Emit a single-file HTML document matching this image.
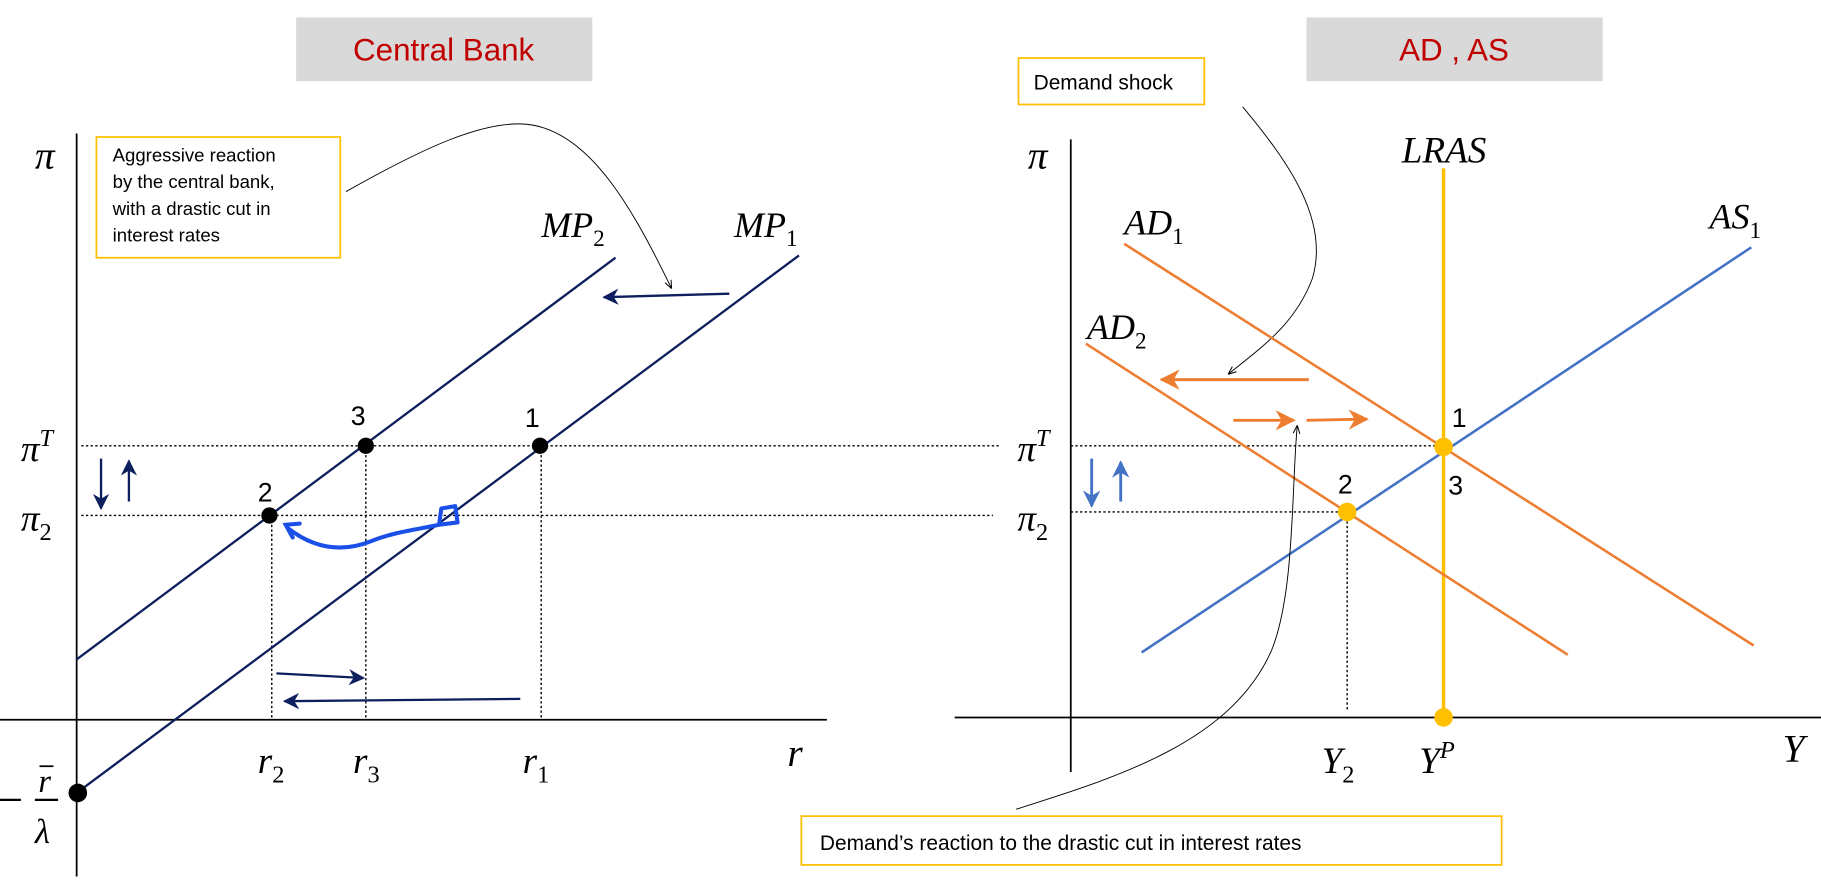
<!DOCTYPE html>
<html><head><meta charset="utf-8"><style>
html,body{margin:0;padding:0;background:#fff;}
svg{display:block;}
.m{font-family:"Liberation Serif",serif;font-style:italic;}
.s{font-family:"Liberation Sans",sans-serif;}
</style></head><body>
<svg width="1821" height="880" viewBox="0 0 1568 758" preserveAspectRatio="none" xmlns="http://www.w3.org/2000/svg">
<defs>
<marker id="an" viewBox="0 0 10 10" refX="9" refY="5" markerWidth="7" markerHeight="7" orient="auto-start-reverse"><path d="M0,0 L10,5 L0,10 L3,5z" fill="#0d1f5c"/></marker>
<marker id="ao" viewBox="0 0 10 10" refX="9" refY="5" markerWidth="7" markerHeight="7" orient="auto"><path d="M0,0 L10,5 L0,10 L3,5z" fill="#ed7d31"/></marker>
<marker id="ab" viewBox="0 0 10 10" refX="9" refY="5" markerWidth="6" markerHeight="6" orient="auto"><path d="M0,0 L10,5 L0,10 L3,5z" fill="#4472c4"/></marker>
<marker id="ak" viewBox="0 0 10 10" refX="9" refY="5" markerWidth="9" markerHeight="9" orient="auto"><path d="M0,1 L10,5 L0,9" fill="none" stroke="#000" stroke-width="1.2"/></marker>
</defs>
<!-- LEFT -->
<rect x="255" y="15" width="255" height="55" fill="#d9d9d9"/>
<text x="382" y="52" text-anchor="middle" class="s" font-size="27" fill="#c00000">Central Bank</text>
<line x1="66" y1="115" x2="66" y2="755" stroke="#000" stroke-width="1.5"/>
<line x1="0" y1="620" x2="712" y2="620" stroke="#000" stroke-width="1.5"/>
<text x="30" y="145" class="m" font-size="34">π</text>
<rect x="83" y="118" width="210" height="104" fill="#fff" stroke="#ffc000" stroke-width="1.5"/>
<g class="s" font-size="16" fill="#000">
<text x="97" y="139">Aggressive reaction</text>
<text x="97" y="162">by the central bank,</text>
<text x="97" y="185">with a drastic cut in</text>
<text x="97" y="208">interest rates</text>
</g>
<path d="M298,165 C360,130 420,100 460,108 C510,118 545,180 578,248" fill="none" stroke="#000" stroke-width="0.8" marker-end="url(#ak)"/>
<g stroke="#000" stroke-width="1.2" stroke-dasharray="2,2">
<line x1="70" y1="384" x2="860" y2="384"/>
<line x1="70" y1="444" x2="855" y2="444"/>
<line x1="234" y1="444" x2="234" y2="618"/>
<line x1="315" y1="384" x2="315" y2="618"/>
<line x1="466" y1="384" x2="466" y2="618"/>
<line x1="922" y1="384" x2="1243" y2="384"/>
<line x1="922" y1="441" x2="1160" y2="441"/>
<line x1="1160" y1="441" x2="1160" y2="612"/>
</g>
<line x1="66" y1="568" x2="530" y2="222" stroke="#0d1f5c" stroke-width="2"/>
<line x1="66" y1="683" x2="688" y2="220" stroke="#0d1f5c" stroke-width="2"/>
<text x="466" y="204" class="m" font-size="31">MP<tspan font-size="20" dy="8" font-style="normal">2</tspan></text>
<text x="632" y="204" class="m" font-size="31">MP<tspan font-size="20" dy="8" font-style="normal">1</tspan></text>
<line x1="628" y1="253" x2="520" y2="256" stroke="#0d1f5c" stroke-width="2" marker-end="url(#an)"/>
<line x1="238" y1="580" x2="313" y2="584" stroke="#0d1f5c" stroke-width="2" marker-end="url(#an)"/>
<line x1="448" y1="602" x2="245" y2="604" stroke="#0d1f5c" stroke-width="2" marker-end="url(#an)"/>
<line x1="87" y1="395" x2="87" y2="438" stroke="#0d1f5c" stroke-width="2" marker-end="url(#an)"/>
<line x1="111" y1="432" x2="111" y2="397" stroke="#0d1f5c" stroke-width="2" marker-end="url(#an)"/>
<path d="M378,452 L380,438 L392,436 L394,450 Z" fill="none" stroke="#1a4fe8" stroke-width="3.5" stroke-linejoin="round"/>
<path d="M378,452 C360,456 340,458 320,466 C300,474 275,476 248,455" fill="none" stroke="#1a4fe8" stroke-width="3.5" stroke-linecap="round"/>
<path d="M258,451 L246,452 L252,463" fill="none" stroke="#1a4fe8" stroke-width="3.5" stroke-linecap="round"/>
<g fill="#000"><circle cx="315" cy="384" r="7"/><circle cx="465" cy="384" r="7"/><circle cx="232" cy="444" r="7"/><circle cx="67" cy="683" r="8"/></g>
<g class="s" font-size="23"><text x="302" y="366">3</text><text x="452" y="368">1</text><text x="222" y="432">2</text></g>
<text x="18" y="397" class="m" font-size="32">π<tspan font-size="21" dy="-13">T</tspan></text>
<text x="18" y="457" class="m" font-size="32">π<tspan font-size="21" dy="8" font-style="normal">2</tspan></text>
<text x="222" y="666" class="m" font-size="32">r<tspan font-size="21" dy="8" font-style="normal">2</tspan></text>
<text x="304" y="666" class="m" font-size="32">r<tspan font-size="21" dy="8" font-style="normal">3</tspan></text>
<text x="450" y="666" class="m" font-size="32">r<tspan font-size="21" dy="8" font-style="normal">1</tspan></text>
<text x="678" y="660" class="m" font-size="34">r</text>
<line x1="0" y1="689" x2="18" y2="689" stroke="#000" stroke-width="2"/>
<line x1="30" y1="689" x2="50" y2="689" stroke="#000" stroke-width="2"/>
<text x="33" y="682" class="m" font-size="28">r</text><line x1="34" y1="660" x2="46" y2="660" stroke="#000" stroke-width="1.5"/>
<text x="30" y="726" class="m" font-size="30">λ</text>
<!-- RIGHT -->
<rect x="1125" y="15" width="255" height="55" fill="#d9d9d9"/>
<text x="1252" y="52" text-anchor="middle" class="s" font-size="27" fill="#c00000">AD , AS</text>
<rect x="877" y="50" width="160" height="40" fill="#fff" stroke="#ffc000" stroke-width="1.5"/>
<text x="890" y="77" class="s" font-size="18">Demand shock</text>
<path d="M1070,92 C1110,140 1145,190 1130,240 C1115,280 1085,300 1058,322" fill="none" stroke="#000" stroke-width="0.8" marker-end="url(#ak)"/>
<line x1="922" y1="120" x2="922" y2="665" stroke="#000" stroke-width="1.5"/>
<line x1="822" y1="618" x2="1568" y2="618" stroke="#000" stroke-width="1.5"/>
<text x="885" y="145" class="m" font-size="34">π</text>
<text x="1207" y="140" class="m" font-size="32">LRAS</text>
<line x1="1243" y1="145" x2="1243" y2="618" stroke="#ffc000" stroke-width="3"/>
<line x1="968" y1="210" x2="1510" y2="556" stroke="#ed7d31" stroke-width="2.2"/>
<line x1="935" y1="296" x2="1350" y2="564" stroke="#ed7d31" stroke-width="2.2"/>
<line x1="983" y1="562" x2="1508" y2="213" stroke="#4472c4" stroke-width="2.2"/>
<text x="968" y="202" class="m" font-size="31">AD<tspan font-size="20" dy="8" font-style="normal">1</tspan></text>
<text x="936" y="292" class="m" font-size="31">AD<tspan font-size="20" dy="8" font-style="normal">2</tspan></text>
<text x="1472" y="197" class="m" font-size="31">AS<tspan font-size="20" dy="8" font-style="normal">1</tspan></text>
<line x1="1127" y1="327" x2="1000" y2="327" stroke="#ed7d31" stroke-width="2.5" marker-end="url(#ao)"/>
<line x1="1062" y1="362" x2="1114" y2="362" stroke="#ed7d31" stroke-width="2.5" marker-end="url(#ao)"/>
<line x1="1125" y1="362" x2="1177" y2="361" stroke="#ed7d31" stroke-width="2.5" marker-end="url(#ao)"/>
<path d="M875,697 C960,670 1060,640 1095,560 C1115,510 1112,420 1117,367" fill="none" stroke="#000" stroke-width="0.8" marker-end="url(#ak)"/>
<line x1="940" y1="395" x2="940" y2="436" stroke="#4472c4" stroke-width="2.5" marker-end="url(#ab)"/>
<line x1="965" y1="432" x2="965" y2="398" stroke="#4472c4" stroke-width="2.5" marker-end="url(#ab)"/>
<g fill="#ffc000"><circle cx="1243" cy="385" r="8"/><circle cx="1160" cy="441" r="8"/><circle cx="1243" cy="618" r="8"/></g>
<g class="s" font-size="23"><text x="1250" y="368">1</text><text x="1247" y="426">3</text><text x="1152" y="425">2</text></g>
<text x="876" y="397" class="m" font-size="32">π<tspan font-size="21" dy="-13">T</tspan></text>
<text x="876" y="457" class="m" font-size="32">π<tspan font-size="21" dy="8" font-style="normal">2</tspan></text>
<text x="1138" y="666" class="m" font-size="32">Y<tspan font-size="21" dy="8" font-style="normal">2</tspan></text>
<text x="1222" y="666" class="m" font-size="32">Y<tspan font-size="21" dy="-13">P</tspan></text>
<text x="1535" y="656" class="m" font-size="34">Y</text>
<rect x="690" y="703" width="603" height="42" fill="#fff" stroke="#ffc000" stroke-width="1.5"/>
<text x="706" y="732" class="s" font-size="18">Demand’s reaction to the drastic cut in interest rates</text>
</svg>
</body></html>
